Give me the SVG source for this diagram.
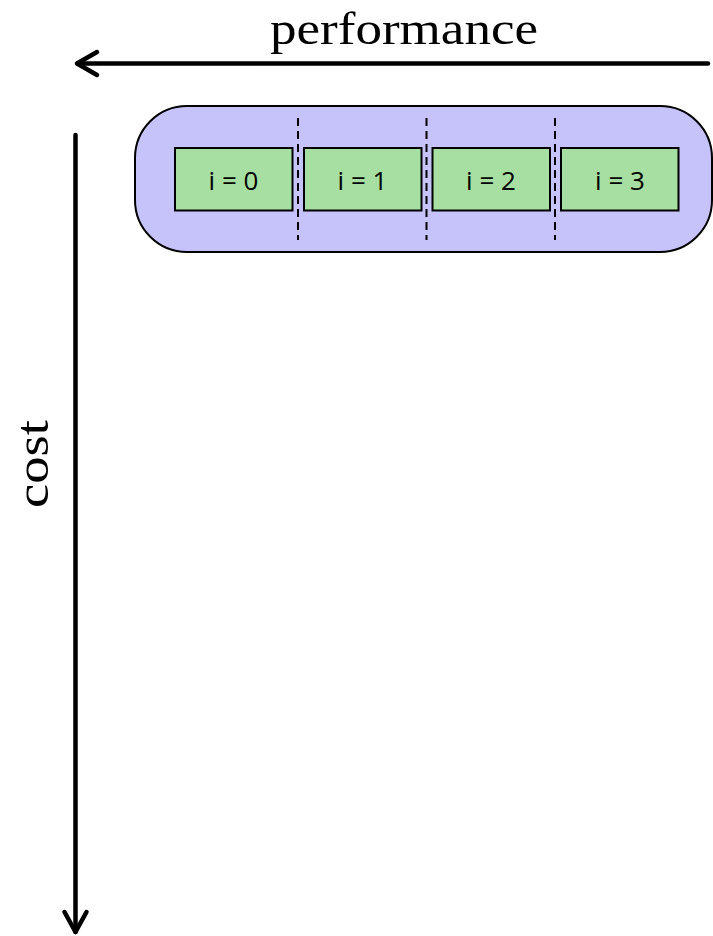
<svg xmlns="http://www.w3.org/2000/svg" width="713" height="936" viewBox="0 0 713 936">
  <style>
    .axis { stroke: #000; stroke-width: 4.5; fill: none; stroke-linecap: round; stroke-linejoin: round; }
    .axis-label { font-family: "Liberation Serif", "Times New Roman", serif; font-size: 47px; fill: #000; }
    .group-bg { fill: #c6c3fb; stroke: #000; stroke-width: 2; }
    .sep { stroke: #000; stroke-width: 2; stroke-dasharray: 8 5; }
    .cell { fill: #a6dfa1; stroke: #000; stroke-width: 2; }
    .cell-label { font-family: "Open Sans", "DejaVu Sans", sans-serif; font-size: 26px; fill: #000; text-anchor: middle; }
  </style>

  <!-- axes -->
  <g id="connectors">
    <path class="axis" d="M708 63.5 H78"/>
    <path class="axis" d="M97 52 L77 63.5 L97 75"/>
    <path class="axis" d="M75.5 135 V932"/>
    <path class="axis" d="M64.5 912 L75.5 932 L86.5 912"/>
  </g>

  <g id="label-performance">
    <text class="axis-label" x="270" y="44" textLength="268" lengthAdjust="spacingAndGlyphs">performance</text>
  </g>
  <g id="label-cost">
    <text class="axis-label" transform="translate(48 508) rotate(-90)" x="0" y="0" textLength="88" lengthAdjust="spacingAndGlyphs">cost</text>
  </g>

  <!-- iteration group -->
  <g id="loop">
    <rect class="group-bg" x="135" y="106" width="577" height="146" rx="52" ry="52"/>
    <line class="sep" x1="298" y1="118" x2="298" y2="240"/>
    <line class="sep" x1="426.5" y1="118" x2="426.5" y2="240"/>
    <line class="sep" x1="555" y1="118" x2="555" y2="240"/>
  </g>

  <g id="iter-0">
    <rect class="cell" x="175" y="148" width="117.5" height="62.5"/>
    <text class="cell-label" x="233.5" y="190">i = 0</text>
  </g>
  <g id="iter-1">
    <rect class="cell" x="304" y="148" width="117.5" height="62.5"/>
    <text class="cell-label" x="362.5" y="190">i = 1</text>
  </g>
  <g id="iter-2">
    <rect class="cell" x="432.5" y="148" width="117.5" height="62.5"/>
    <text class="cell-label" x="491" y="190">i = 2</text>
  </g>
  <g id="iter-3">
    <rect class="cell" x="561" y="148" width="117.5" height="62.5"/>
    <text class="cell-label" x="620" y="190">i = 3</text>
  </g>
</svg>
